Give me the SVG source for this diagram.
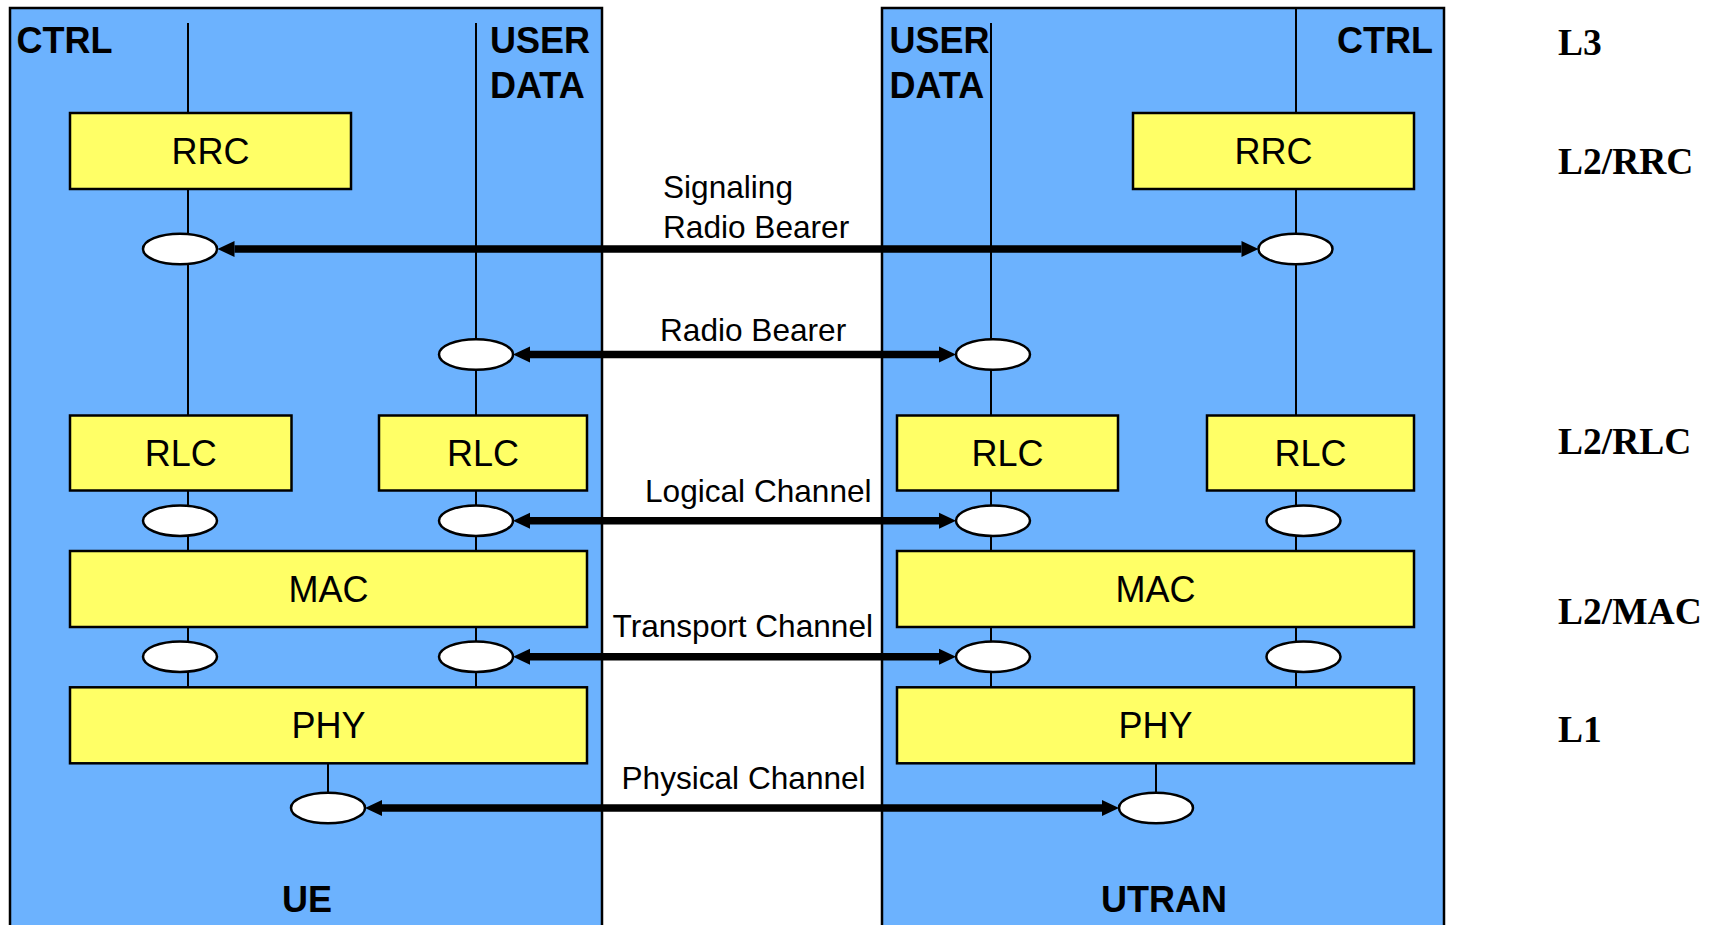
<svg xmlns="http://www.w3.org/2000/svg" width="1719" height="925" viewBox="0 0 1719 925">
<style>
.panel{fill:#6CB2FE;stroke:#000;stroke-width:2.5}
.box{fill:#FFFF66;stroke:#000;stroke-width:2.5}
.sap{fill:#fff;stroke:#000;stroke-width:2.5}
.vl{stroke:#000;stroke-width:2;fill:none}
.arr{stroke:#000;stroke-width:7.5;fill:none;marker-start:url(#ah);marker-end:url(#ah)}
.bl{font-family:"Liberation Sans",Arial,sans-serif;font-weight:bold;font-size:36px;fill:#000}
.bt{font-family:"Liberation Sans",Arial,sans-serif;font-size:36px;fill:#000;text-anchor:middle}
.lab{font-family:"Liberation Sans",Arial,sans-serif;font-size:31.6px;fill:#000}
.lay{font-family:"Liberation Serif","Times New Roman",serif;font-weight:bold;font-size:37.5px;fill:#000}
</style>
<defs>
<marker id="ah" markerUnits="userSpaceOnUse" markerWidth="18" markerHeight="16" refX="0" refY="8" orient="auto-start-reverse" overflow="visible">
<path d="M0,0 L17,8 L0,16 Z" fill="#000"/>
</marker>
</defs>
<rect width="1719" height="925" fill="#fff"/>
<g id="ue-panel">
<rect class="panel" x="10" y="8" width="592" height="940"/>
<text class="bl" x="16.5" y="53">CTRL</text>
<text class="bl" x="490" y="53">USER</text>
<text class="bl" x="490" y="97.5">DATA</text>
<text class="bl" x="282" y="912">UE</text>
</g>
<g id="utran-panel">
<rect class="panel" x="882" y="8" width="562" height="940"/>
<text class="bl" x="889.5" y="53">USER</text>
<text class="bl" x="889.5" y="97.5">DATA</text>
<text class="bl" x="1433" y="53" text-anchor="end">CTRL</text>
<text class="bl" x="1101" y="912">UTRAN</text>
</g>
<g id="connectors">
<line class="vl" x1="188" y1="23" x2="188" y2="687"/>
<line class="vl" x1="476" y1="23" x2="476" y2="687"/>
<line class="vl" x1="991" y1="23" x2="991" y2="687"/>
<line class="vl" x1="1296" y1="8" x2="1296" y2="687"/>
<line class="vl" x1="328" y1="763" x2="328" y2="793"/>
<line class="vl" x1="1156" y1="763" x2="1156" y2="793"/>
</g>
<g id="ue-rrc"><rect class="box" x="70" y="113" width="281" height="76"/><text class="bt" x="210.5" y="164">RRC</text></g>
<g id="utran-rrc"><rect class="box" x="1133" y="113" width="281" height="76"/><text class="bt" x="1273.5" y="164">RRC</text></g>
<g id="ue-rlc-ctrl"><rect class="box" x="70" y="415.5" width="221.5" height="75"/><text class="bt" x="180.8" y="466">RLC</text></g>
<g id="ue-rlc-user"><rect class="box" x="379" y="415.5" width="208" height="75"/><text class="bt" x="483" y="466">RLC</text></g>
<g id="utran-rlc-user"><rect class="box" x="897" y="415.5" width="221" height="75"/><text class="bt" x="1007.5" y="466">RLC</text></g>
<g id="utran-rlc-ctrl"><rect class="box" x="1207" y="415.5" width="207" height="75"/><text class="bt" x="1310.5" y="466">RLC</text></g>
<g id="ue-mac"><rect class="box" x="70" y="551" width="517" height="76"/><text class="bt" x="328.5" y="602">MAC</text></g>
<g id="utran-mac"><rect class="box" x="897" y="551" width="517" height="76"/><text class="bt" x="1155.5" y="602">MAC</text></g>
<g id="ue-phy"><rect class="box" x="70" y="687.3" width="517" height="76"/><text class="bt" x="328.5" y="738">PHY</text></g>
<g id="utran-phy"><rect class="box" x="897" y="687.3" width="517" height="76"/><text class="bt" x="1155.5" y="738">PHY</text></g>
<g id="saps">
<ellipse class="sap" cx="180" cy="249" rx="37" ry="15.3"/>
<ellipse class="sap" cx="1295.5" cy="249" rx="37" ry="15.3"/>
<ellipse class="sap" cx="476" cy="354.5" rx="37" ry="15.3"/>
<ellipse class="sap" cx="993" cy="354.5" rx="37" ry="15.3"/>
<ellipse class="sap" cx="180" cy="520.7" rx="37" ry="15.3"/>
<ellipse class="sap" cx="476" cy="520.7" rx="37" ry="15.3"/>
<ellipse class="sap" cx="993" cy="520.7" rx="37" ry="15.3"/>
<ellipse class="sap" cx="1303.5" cy="520.7" rx="37" ry="15.3"/>
<ellipse class="sap" cx="180" cy="656.7" rx="37" ry="15.3"/>
<ellipse class="sap" cx="476" cy="656.7" rx="37" ry="15.3"/>
<ellipse class="sap" cx="993" cy="656.7" rx="37" ry="15.3"/>
<ellipse class="sap" cx="1303.5" cy="656.7" rx="37" ry="15.3"/>
<ellipse class="sap" cx="328" cy="808" rx="37" ry="15.3"/>
<ellipse class="sap" cx="1156" cy="808" rx="37" ry="15.3"/>
</g>
<g id="channels">
<line class="arr" x1="234.5" y1="249" x2="1241.5" y2="249"/>
<line class="arr" x1="530" y1="354.5" x2="939" y2="354.5"/>
<line class="arr" x1="530" y1="520.7" x2="939" y2="520.7"/>
<line class="arr" x1="530" y1="656.7" x2="939" y2="656.7"/>
<line class="arr" x1="382" y1="808" x2="1102" y2="808"/>
<text class="lab" x="663" y="198">Signaling</text>
<text class="lab" x="663" y="238">Radio Bearer</text>
<text class="lab" x="660" y="341">Radio Bearer</text>
<text class="lab" x="645" y="502">Logical Channel</text>
<text class="lab" x="612.5" y="637">Transport Channel</text>
<text class="lab" x="621.5" y="789">Physical Channel</text>
</g>
<g id="layers">
<text class="lay" x="1558" y="55">L3</text>
<text class="lay" x="1558" y="174">L2/RRC</text>
<text class="lay" x="1558" y="454">L2/RLC</text>
<text class="lay" x="1558" y="624">L2/MAC</text>
<text class="lay" x="1558" y="742">L1</text>
</g>
</svg>
